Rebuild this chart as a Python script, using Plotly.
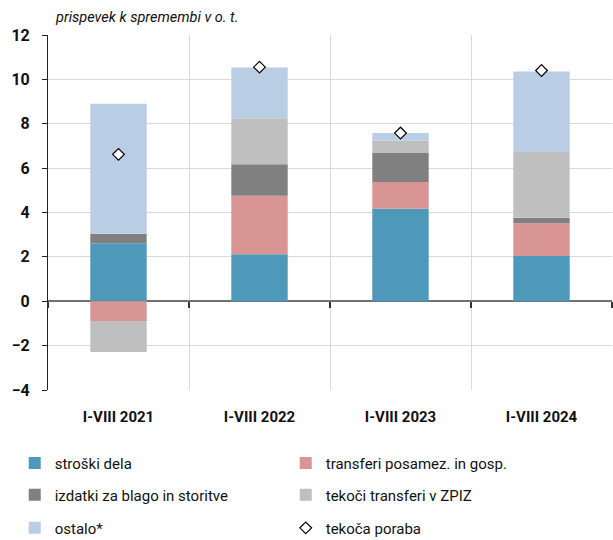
import plotly.graph_objects as go

categories = ["I-VIII 2021", "I-VIII 2022", "I-VIII 2023", "I-VIII 2024"]
stroski_dela = [2.61, 2.12, 4.17, 2.04]
transferi_posamez = [-0.89, 2.63, 1.20, 1.47]
izdatki_blago = [0.43, 1.43, 1.31, 0.25]
tekoci_zpiz = [-1.40, 2.07, 0.57, 2.97]
ostalo = [5.86, 2.28, 0.33, 3.62]
tekoca_poraba = [6.62, 10.55, 7.58, 10.40]

y_ticks = [-4, -2, 0, 2, 4, 6, 8, 10, 12]
y_min, y_max = -4, 12

FONT = "Roboto, sans-serif"

series = [
    ("stroški dela", stroski_dela, "#4E98BA", "legend"),
    ("transferi posamez. in gosp.", transferi_posamez, "#D99594", "legend"),
    ("izdatki za blago in storitve", izdatki_blago, "#808080", "legend2"),
    ("tekoči transferi v ZPIZ", tekoci_zpiz, "#BFBFBF", "legend2"),
    ("ostalo*", ostalo, "#B9CDE5", "legend3"),
]

fig = go.Figure()
for name, vals, color, lg in series:
    fig.add_trace(go.Bar(
        x=categories, y=vals, name=name, legend=lg,
        marker=dict(color=color, line=dict(width=0)),
    ))

fig.add_trace(go.Scatter(
    x=categories, y=tekoca_poraba, name="tekoča poraba", legend="legend3",
    mode="markers",
    marker=dict(symbol="diamond", size=9, color="white",
                line=dict(color="black", width=1.2)),
))

# invisible helper trace so the zero-line category ticks axis is drawn
fig.add_trace(go.Scatter(
    x=categories, y=[0] * len(categories), xaxis="x2", mode="markers",
    marker=dict(opacity=0), showlegend=False, hoverinfo="skip",
))

leg_common = dict(orientation="h", xanchor="left", yanchor="middle",
                  entrywidth=226, entrywidthmode="pixels",
                  font=dict(family=FONT, size=15, color="#111111"),
                  bgcolor="rgba(0,0,0,0)", itemclick=False, traceorder="normal")

lx = -0.059
zero_pos = (0 - y_min) / (y_max - y_min)
fig.update_layout(
    width=613, height=540,
    margin=dict(l=48, r=1, t=35, b=150, autoexpand=False),
    paper_bgcolor="white", plot_bgcolor="white",
    barmode="relative", bargap=0.6,
    font=dict(family=FONT, size=15, color="#111111"),
    legend=dict(x=lx, y=-0.206, **leg_common),
    legend2=dict(x=lx, y=-0.296, **leg_common),
    legend3=dict(x=lx, y=-0.389, **leg_common),
    xaxis=dict(
        type="category", tickson="boundaries", showgrid=True,
        gridcolor="#D9D9D9", gridwidth=1, ticks="", showline=False,
        tickfont=dict(family=FONT, size=15, color="#111111", weight="bold"),
        ticklabelstandoff=16,
    ),
    xaxis2=dict(
        type="category", overlaying="x", anchor="free", position=zero_pos,
        side="bottom", tickson="boundaries", ticks="outside", ticklen=6,
        tickcolor="#333333", tickwidth=1.5, showticklabels=False,
        showgrid=False, showline=False, zeroline=False,
        range=[-0.5, len(categories) - 0.5],
    ),
    yaxis=dict(
        range=[y_min, y_max], tickvals=y_ticks, showgrid=True,
        gridcolor="#D9D9D9", gridwidth=1,
        zeroline=True, zerolinecolor="#707070", zerolinewidth=2,
        showline=True, linecolor="#222222", linewidth=1,
        ticks="outside", ticklen=5, tickcolor="#222222",
        tickfont=dict(family=FONT, size=16, color="#111111", weight="bold"),
        ticklabelstandoff=9,
    ),
    annotations=[dict(
        text="<i>prispevek k spremembi v o. t.</i>",
        xref="paper", yref="paper", x=0.009, y=1.048,
        xanchor="left", yanchor="middle", showarrow=False,
        font=dict(family=FONT, size=14.5, color="#111111"),
    )],
)

fig.write_html("out.html", config={"displayModeBar": False},
               post_script="document.body.style.margin='0';document.body.style.overflow='hidden';")
